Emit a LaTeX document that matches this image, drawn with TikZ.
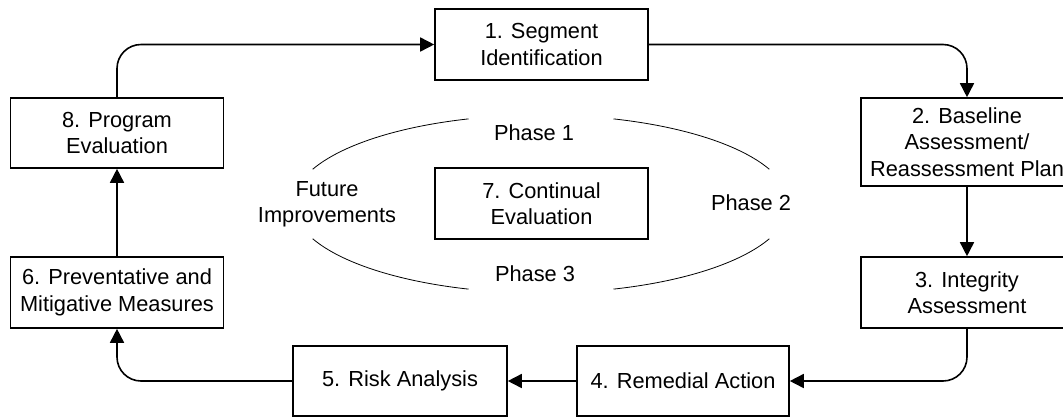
\documentclass[tikz,border=0pt]{standalone}
\usepackage{fontspec}
\setmainfont{Liberation Sans}
\usetikzlibrary{arrows.meta}
\begin{document}
\begin{tikzpicture}[x=1pt,y=1pt,
  txt/.style={font=\fontsize{21.8}{26.5}\selectfont, align=center, inner sep=0pt},
  stage/.style={txt, draw, line width=1.6pt, minimum width=213pt, minimum height=71pt},
  flow/.style={line width=1.6pt, rounded corners=24pt, -{Triangle[length=14pt,width=14pt]}},
  cycle/.style={line width=0.8pt}
]
\clip (0,0) rectangle (1063,-416);

% process stages
\node[stage] (b1) at (541.5,-44.5) {1. Segment\\Identification};
\node[stage, minimum width=212pt, minimum height=88pt] (b2) at (967,-142) {2. Baseline\\Assessment/\\Reassessment Plan};
\node[stage, minimum width=212pt] (b3) at (967,-292.5) {3. Integrity\\Assessment};
\node[stage, minimum width=212pt, minimum height=70pt] (b4) at (683,-381) {4. Remedial Action};
\node[stage, minimum width=214pt, minimum height=70pt] (b5) at (400,-381) {5. Risk Analysis};
\node[stage] (b6) at (117,-292.5) {6. Preventative and\\Mitigative Measures};
\node[stage] (b7) at (541.5,-203.5) {7. Continual\\Evaluation};
\node[stage, minimum height=70pt] (b8) at (117,-133) {8. Program\\Evaluation};

% phase labels around the inner cycle
\node[txt] (p1) at (534,-133) {Phase 1};
\node[txt] (p2) at (751,-203) {Phase 2};
\node[txt] (p3) at (535,-274) {Phase 3};
\node[txt] (fi) at (327,-204.5) {Future\\Improvements};

% inner cycle drawn as four elliptical arcs
\coordinate (c) at (541,-204);
\draw[cycle] (c) ++(107:248 and 89) arc[start angle=107, end angle=157, x radius=248, y radius=89];
\draw[cycle] (c) ++(23:248 and 89) arc[start angle=23, end angle=73, x radius=248, y radius=89];
\draw[cycle] (c) ++(203:248 and 89) arc[start angle=203, end angle=253, x radius=248, y radius=89];
\draw[cycle] (c) ++(287:248 and 89) arc[start angle=287, end angle=337, x radius=248, y radius=89];

% outer process flow
\draw[flow] (b1.east) -| (b2.north);
\draw[flow] (b2.south) -- (b3.north);
\draw[flow] (b3.south) |- (b4.east);
\draw[flow] (b4.west) -- (b5.east);
\draw[flow] (b5.west) -| (b6.south);
\draw[flow] (b6.north) -- (b8.south);
\draw[flow] (b8.north) |- (b1.west);
\end{tikzpicture}
\end{document}
